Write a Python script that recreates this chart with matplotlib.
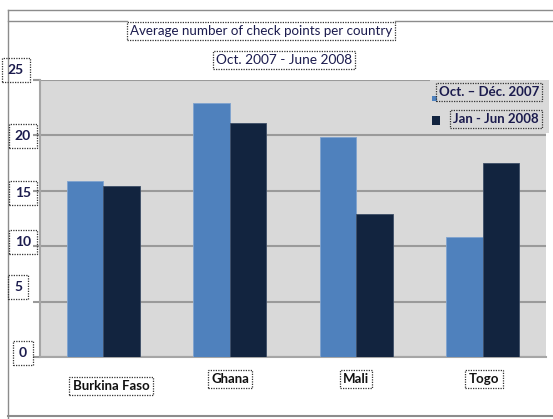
import matplotlib.pyplot as plt
import numpy as np

# data
countries = ["Burkina Faso", "Ghana", "Mali", "Togo"]
oct_dec_2007 = [15.9, 22.9, 19.9, 10.8]
jan_jun_2008 = [15.4, 21.1, 12.9, 17.5]
yticks = [0, 5, 10, 15, 20, 25]
title = "Average number of check points per country"
subtitle = "Oct. 2007 - June 2008"
series_names = ["Oct. \u2013 Déc. 2007", "Jan - Jun 2008"]

W, H = 553, 419
blue = "#4f81bd"
dark = "#12243f"
navy = "#1b1b4d"
plt.rcParams['font.family'] = ['Lato', 'DejaVu Sans']

fig = plt.figure(figsize=(W/100, H/100), dpi=100)

def fx(x):
    return x/W
def fy(y):
    return 1-y/H

# outer frame lines of the screenshot
fig.add_artist(plt.Line2D([fx(8), fx(8)], [fy(10), fy(419)], color="#8c8c8c", lw=1))
fig.add_artist(plt.Line2D([fx(8), fx(553)], [fy(10), fy(10)], color="#8c8c8c", lw=1))
fig.add_artist(plt.Line2D([fx(8), fx(127)], [fy(21), fy(21)], color="#8c8c8c", lw=1))
fig.add_artist(plt.Line2D([fx(395), fx(553)], [fy(21), fy(21)], color="#8c8c8c", lw=1))
fig.add_artist(plt.Line2D([fx(8), fx(553)], [fy(416), fy(416)], color="#8c8c8c", lw=1.5))

ax = fig.add_axes([fx(40), fy(357), (546-40)/W, (357-80)/H])
ax.set_facecolor("#d9d9d9")

x = np.arange(len(countries))
bw = 0.289
ax.bar(x-bw/2, oct_dec_2007, bw, color=blue, edgecolor="#7fa3cf", lw=0.6, zorder=3)
ax.bar(x+bw/2, jan_jun_2008, bw, color=dark, edgecolor="#3c4d66", lw=0.6, zorder=3)

ax.set_xlim(-0.5, len(countries)-0.5)
ax.set_ylim(0, 25)
ax.set_yticks(yticks)
ax.set_yticklabels([])
ax.set_xticks([])
ax.yaxis.grid(True, color="#9a9a9a", lw=1.5, zorder=1)
ax.tick_params(axis="y", length=5, width=1.5, color="#9a9a9a", direction="out")
for s in ["top", "right"]:
    ax.spines[s].set_visible(False)
ax.spines["left"].set_color("#a6a6a6")
ax.spines["left"].set_linewidth(1.5)
ax.spines["bottom"].set_color("#a6a6a6")
ax.spines["bottom"].set_linewidth(1.5)

dotted = dict(boxstyle="square,pad=0.25", fc="none", ec="#333333", ls=(0, (1, 1)), lw=0.9)
tall = dict(boxstyle="square,pad=0.45", fc="none", ec="#333333", ls=(0, (1, 1)), lw=0.9)

# y tick labels, placed like in the screenshot (offsets in px)
ylab_pos = {25: (16, 70), 20: (23, 136), 15: (23, 193), 10: (23, 242), 5: (18, 287), 0: (23, 353)}
for v in yticks:
    px, py = ylab_pos[v]
    fig.text(fx(px), fy(py), str(v), ha="center", va="center", fontsize=10,
             fontweight="bold", color=navy, bbox=tall)

# category labels
cat_pos = [(111, 386), (230, 379), (356, 379), (484, 379)]
for name, (px, py) in zip(countries, cat_pos):
    fig.text(fx(px), fy(py), name, ha="center", va="center", fontsize=9.5,
             fontweight="bold", color="#111111", bbox=dotted)

fig.text(fx(261), fy(31), title, ha="center", va="center", fontsize=9.6,
         color=navy, bbox=dotted)
fig.text(fx(284), fy(60), subtitle, ha="center", va="center", fontsize=9.8,
         color=navy, bbox=dotted)

# legend
fig.patches.append(plt.Rectangle((fx(430), fy(133)), (549-430)/W, (133-80)/H,
                                 transform=fig.transFigure, fc="#d9d9d9", ec="none", zorder=4))
fig.patches.append(plt.Rectangle((fx(432), fy(101)), 5/W, 5/H,
                                 transform=fig.transFigure, fc=blue, ec="none", zorder=5))
fig.patches.append(plt.Rectangle((fx(432), fy(125)), 8/W, 9/H,
                                 transform=fig.transFigure, fc=dark, ec="none", zorder=5))
fig.text(fx(489), fy(92), series_names[0], ha="center", va="center", fontsize=9.5,
         fontweight="bold", color=navy, bbox=dotted, zorder=6)
fig.text(fx(496), fy(119), series_names[1], ha="center", va="center", fontsize=9.5,
         fontweight="bold", color=navy, bbox=dotted, zorder=6)

fig.savefig("out.png", dpi=100)
